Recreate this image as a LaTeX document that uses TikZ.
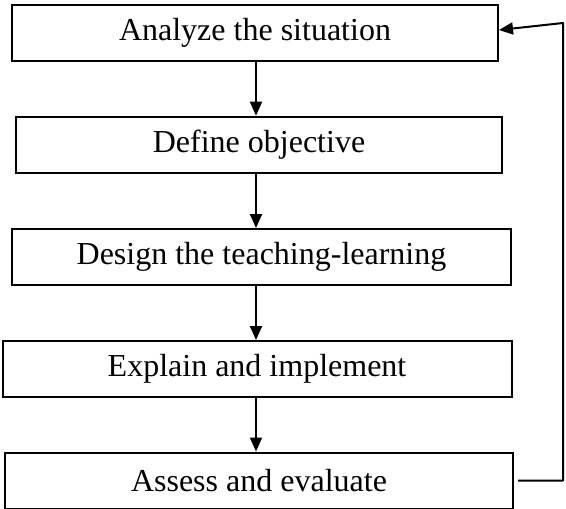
\documentclass[tikz,border=0pt]{standalone}
\usepackage{fontspec}
\setmainfont{Liberation Serif}
\usepackage{tikz}
\usetikzlibrary{arrows.meta, positioning}

\tikzset{
  stage/.style={draw, line width=2pt, minimum height=56pt, inner sep=0pt,
    font=\fontsize{32}{36}\selectfont},
  flow/.style={line width=2pt, -{Triangle[length=14pt,width=12pt]}}
}

\begin{document}
\begin{tikzpicture}[x=1pt,y=-1pt]
  \useasboundingbox (0,0) rectangle (566,509);
  % the five stages
  \node[stage, minimum width=486pt] (analyze) at (255,33) {Analyze the situation};
  \node[stage, minimum width=486pt] (define) at (259,144.7) {Define objective};
  \node[stage, minimum width=499pt] (design) at (261.5,257) {Design the teaching-learning};
  \node[stage, minimum width=509pt] (explain) at (257,369) {Explain and implement};
  \node[stage, minimum width=508pt] (assess) at (259,480.5) {Assess and evaluate};
  % arrows down the middle
  \coordinate (axis) at (256,0);
  \draw[flow] (analyze.south -| axis) -- (define.north -| axis);
  \draw[flow] (define.south -| axis) -- (design.north -| axis);
  \draw[flow] (design.south -| axis) -- (explain.north -| axis);
  \draw[flow] (explain.south -| axis) -- (assess.north -| axis);
  % loop back to the start
  \coordinate (backlow) at (563,480.5);
  \coordinate (backtop) at (563,23);
  \draw[flow, line join=round] ([xshift=4pt]assess.east) -- (backlow) -- (backtop)
    -- ([yshift=3pt]analyze.east);
\end{tikzpicture}
\end{document}
